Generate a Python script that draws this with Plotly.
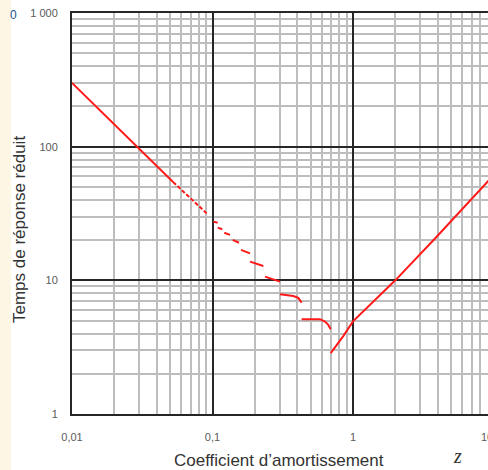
import plotly.graph_objects as go

# ---- data ----
z_solid = [0.01, 0.0524]
t_solid = [300, 54.4]

z_dash = [0.0524, 0.0909]
t_dash = [54.4, 31.7]

step_z = [
    [0.1013, 0.1089],
    [0.1089, 0.1174],
    [0.1213, 0.1332],
    [0.1392, 0.1544],
    [0.1596, 0.1849],
    [0.1849, 0.2299],
    [0.2364, 0.3022],
    [0.3022, 0.376, 0.408, 0.431],
    [0.431, 0.582, 0.632, 0.667, 0.694],
]
step_t = [
    [27.5, 27.0],
    [24.8, 24.1],
    [22.7, 21.9],
    [20.05, 19.1],
    [16.9, 15.9],
    [13.8, 12.8],
    [10.66, 9.78],
    [7.87, 7.64, 7.39, 6.81],
    [5.12, 5.12, 4.91, 4.64, 4.31],
]

rise_z = [0.694, 0.85, 1.0, 2.0, 3.94, 10]
rise_t = [2.85, 3.81, 4.93, 10, 21.2, 61]

x_tickvals = [0.01, 0.1, 1]
x_ticktext = ["0,01", "0,1", "1"]
y_tickvals = [1, 10, 100, 1000]
y_ticktext = ["1", "10", "100", "1 000"]

RED = "#ff1a1a"

# ---- build figure ----
fig = go.Figure()
fig.add_trace(go.Scatter(x=z_solid, y=t_solid, mode="lines",
                         line=dict(color=RED, width=2), showlegend=False))
fig.add_trace(go.Scatter(x=z_dash, y=t_dash, mode="lines",
                         line=dict(color=RED, width=2, dash="4px,2px"), showlegend=False))
sx, sy = [], []
for zz, tt in zip(step_z, step_t):
    sx += zz + [None]
    sy += tt + [None]
fig.add_trace(go.Scatter(x=sx, y=sy, mode="lines", connectgaps=False,
                         line=dict(color=RED, width=2), showlegend=False))
fig.add_trace(go.Scatter(x=rise_z, y=rise_t, mode="lines",
                         line=dict(color=RED, width=2), showlegend=False))

L, T, B = 72, 13, 56
W, H = 488, 470
pw = W - L
ph = H - T - B
decade_px = 140.5
xmax_log = pw / decade_px - 2

def px_x(p):
    return (p - L) / pw

def px_y(p):
    return (H - B - p) / ph

tick_font = dict(family="Liberation Sans, Arial, sans-serif", size=11, color="#5a5a5a")

fig.update_layout(
    width=W, height=H,
    margin=dict(l=L, r=0, t=T, b=B),
    paper_bgcolor="white",
    plot_bgcolor="white",
    showlegend=False,
    xaxis=dict(
        type="log", range=[-2, xmax_log],
        tickmode="array", tickvals=x_tickvals, ticktext=x_ticktext,
        tickfont=tick_font, ticks="", ticklabelstandoff=12,
        showgrid=True, gridcolor="#262626", gridwidth=1.5,
        minor=dict(dtick="D1", showgrid=True, gridcolor="#bdbdbd", gridwidth=1.8, ticks=""),
        showline=True, linecolor="#262626", linewidth=2, mirror=True,
        zeroline=False,
    ),
    yaxis=dict(
        type="log", range=[0, 3],
        tickmode="array", tickvals=y_tickvals, ticktext=y_ticktext,
        tickfont=tick_font, ticks="", ticklabelstandoff=10,
        showgrid=True, gridcolor="#262626", gridwidth=1.5,
        minor=dict(dtick="D1", showgrid=True, gridcolor="#bdbdbd", gridwidth=1.8, ticks=""),
        showline=True, linecolor="#262626", linewidth=2, mirror=False,
        zeroline=False,
    ),
    shapes=[
        dict(type="rect", xref="paper", yref="paper",
             x0=px_x(0), x1=px_x(11), y0=px_y(H), y1=px_y(0),
             fillcolor="#fef6e4", line=dict(width=0), layer="below"),
    ],
    annotations=[
        dict(text="Coefficient d\u2019amortissement", xref="paper", yref="paper",
             x=px_x(279), y=px_y(460), xanchor="center", yanchor="middle",
             showarrow=False,
             font=dict(family="Liberation Sans, Arial, sans-serif", size=17, color="#333333")),
        dict(text="<i>z</i>", xref="paper", yref="paper",
             x=px_x(457), y=px_y(456), xanchor="center", yanchor="middle",
             showarrow=False,
             font=dict(family="Liberation Serif, Times New Roman, serif", size=20, color="#333333")),
        dict(text="Temps de réponse réduit", xref="paper", yref="paper",
             x=px_x(20), y=px_y(230), xanchor="center", yanchor="middle",
             textangle=-90, showarrow=False,
             font=dict(family="Liberation Sans, Arial, sans-serif", size=17, color="#333333")),
        dict(text="10", xref="paper", yref="paper",
             x=px_x(487), y=px_y(437), xanchor="center", yanchor="middle",
             showarrow=False, font=tick_font),
        dict(text="0", xref="paper", yref="paper",
             x=px_x(13), y=px_y(15), xanchor="center", yanchor="middle",
             showarrow=False,
             font=dict(family="Liberation Sans, Arial, sans-serif", size=12, color="#1f4f8f")),
    ],
)

fig.write_html("out.html", config={"displayModeBar": False},
               post_script="document.body.style.margin='0';document.body.style.overflow='hidden';")
